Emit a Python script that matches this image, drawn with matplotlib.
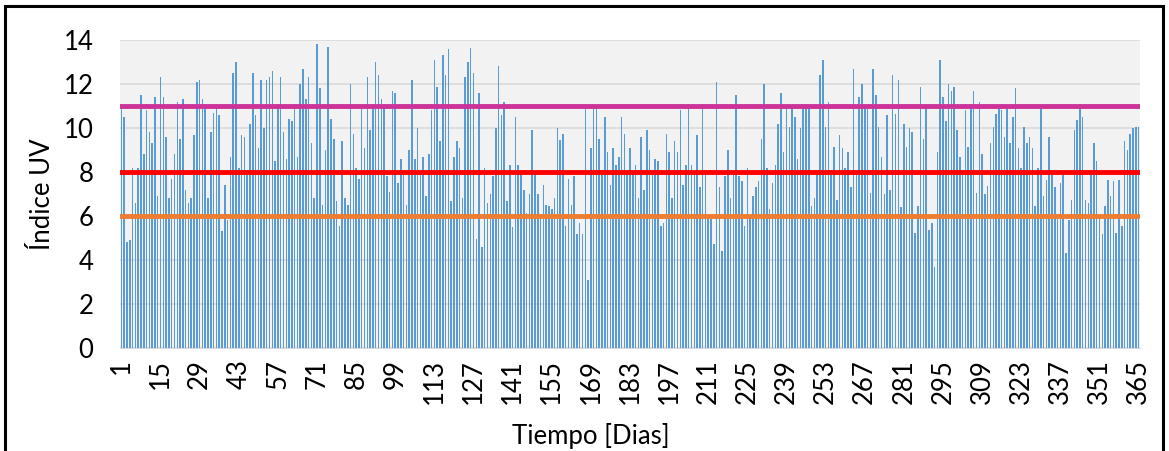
import matplotlib
matplotlib.use("Agg")
import matplotlib.pyplot as plt
from matplotlib.patches import Rectangle

# UV index per day
uv_index = [
    10.9, 10.5, 4.8, 4.9, 8.2, 6.6, 8.2, 11.5, 8.8, 10.8, 9.8, 9.3, 11.4, 6.9, 12.3, 11.4, 9.6, 6.8, 7.7, 8.8,
    11.2, 9.5, 11.3, 7.2, 6.6, 6.8, 9.7, 12.1, 12.2, 11.3, 11.0, 6.8, 9.8, 10.7, 10.9,
    10.6, 5.3, 7.4, 5.8, 8.7, 12.5, 13.0, 8.2, 9.7, 9.6, 8.0, 10.2, 12.5, 10.6, 9.1, 12.2, 10.0, 12.2, 12.3, 12.6,
    8.5, 11.0, 12.3, 9.8, 8.6, 10.4, 10.3, 10.9, 8.7, 12.0, 12.7, 11.3, 12.3, 9.3, 6.8, 13.8, 11.8,
    6.5, 9.0, 13.7, 10.4, 9.5, 6.7, 5.55, 9.4, 6.8, 6.5, 12.0, 9.75, 8.2, 7.7, 10.9, 9.1, 12.3, 9.9, 10.9, 13.0,
    12.4, 11.3, 10.9, 7.8, 7.1, 11.7, 11.6, 7.5, 8.6, 8.0, 6.5, 9.0, 12.2, 8.6, 10.0,
    8.0, 8.7, 6.9, 8.8, 10.8, 13.1, 11.85, 9.4, 13.3, 12.4, 13.6, 6.7, 8.7, 9.4, 9.1, 6.8, 12.3, 13.0, 13.65, 12.5,
    4.95, 11.6, 4.6, 8.2, 6.6, 7.0, 7.8, 10.0, 12.8, 10.6, 11.2, 6.7, 8.3, 5.5, 10.5, 8.3, 8.0, 7.2,
    6.15, 7.0, 9.9, 8.0, 7.0, 6.0, 7.4, 6.5, 6.45, 6.3, 6.8, 10.0, 9.45, 9.75, 5.55, 7.7, 6.5, 7.8, 5.2, 5.7,
    5.2, 10.9, 3.1, 9.1, 10.9, 10.9, 9.5, 8.0, 10.5, 8.9, 7.4, 9.1, 8.3, 8.7, 10.5, 9.75,
    8.0, 9.1, 8.0, 8.3, 6.8, 9.6, 7.2, 9.9, 9.0, 8.0, 8.6, 8.5, 5.55, 5.7, 9.75, 8.9, 6.8, 9.4, 8.9, 10.8,
    7.4, 8.3, 10.9, 8.3, 8.0, 9.7, 7.3, 10.9, 8.0, 6.0, 5.85, 4.75, 12.1, 7.3, 4.4, 7.8, 9.0,
    6.8, 8.0, 11.5, 7.8, 7.6, 5.55, 8.2, 6.0, 6.9, 7.3, 7.6, 9.5, 12.0, 8.2, 6.3, 7.5, 8.3, 10.2, 11.6, 8.9,
    10.9, 10.05, 10.9, 10.5, 8.6, 10.0, 10.9, 10.9, 10.9, 6.45, 6.8, 8.0, 12.4, 13.1, 10.05, 11.2,
    8.0, 9.15, 6.75, 9.7, 9.1, 8.2, 8.9, 7.3, 12.7, 8.0, 11.4, 12.0, 10.9, 10.9, 7.05, 12.7, 11.5, 10.05, 8.7, 7.0,
    10.6, 7.2, 12.4, 10.65, 12.2, 6.4, 10.2, 9.15, 10.0, 9.8, 5.25, 6.45, 11.85, 9.5, 10.9, 5.35, 5.7, 3.7,
    8.9, 13.1, 11.4, 10.3, 12.0, 11.7, 11.85, 9.9, 8.7, 8.0, 10.8, 9.15, 10.9, 11.7, 7.05, 11.2, 8.8, 7.0, 7.35, 9.3,
    10.05, 10.65, 10.9, 10.8, 9.6, 10.9, 9.3, 10.5, 11.8, 9.1, 8.2, 10.05, 9.3, 9.6, 9.1, 6.45,
    8.2, 10.9, 6.9, 7.65, 9.6, 8.0, 7.3, 6.0, 7.5, 7.85, 4.3, 5.8, 6.75, 9.9, 10.35, 10.9, 10.5, 6.75, 6.6, 8.0,
    9.3, 8.5, 6.0, 5.2, 6.45, 7.65, 6.9, 7.6, 5.25, 7.65, 5.55, 9.4, 9.0, 9.75, 10.0, 10.05, 10.05,
]
days = list(range(1, len(uv_index) + 1))
day_ticks = list(range(1, 366, 14))

# reference levels
level_values = [11, 8, 6]
level_colors = ["#CC3399", "#FF0000", "#ED7D31"]

plt.rcParams['font.family'] = ['Lato', 'DejaVu Sans']

fig = plt.figure(figsize=(11.69, 4.51), dpi=100)
ax = fig.add_axes([120 / 1169, 1 - 348 / 451, 1020 / 1169, 308 / 451])
ax.set_facecolor("#F2F2F2")

ax.bar(days, uv_index, width=0.55, color="#5B9BD5", zorder=2)
for val, col in zip(level_values, level_colors):
    ax.axhline(val, color=col, linewidth=3.5, zorder=3)

ax.set_xlim(0.5, 365.5)
ax.set_ylim(0, 14)
ax.set_yticks(range(0, 15, 2))
ax.set_xticks(day_ticks)
ax.set_xticklabels([str(d) for d in day_ticks], rotation=90)
ax.tick_params(axis='both', length=0, labelsize=18.5, colors="#000000")
ax.tick_params(axis='y', pad=19)
ax.tick_params(axis='x', pad=8)
ax.grid(axis='y', color="#D9D9D9", linewidth=1.2, zorder=0)
ax.set_axisbelow(True)
for s in ["top", "right", "left"]:
    ax.spines[s].set_visible(False)
ax.spines["bottom"].set_color("#D9D9D9")

ax.set_xlabel("Tiempo [Dias]", fontsize=18.5, labelpad=0)
ax.set_ylabel("Índice UV", fontsize=18.5, labelpad=6)
ax.xaxis.set_label_coords(0.462, -0.245)

# outer frame around the chart
fig.patches.append(Rectangle((5 / 1169, -0.1), 1158 / 1169, 1.1 - 6 / 451,
                             transform=fig.transFigure, fill=False,
                             edgecolor="black", linewidth=2.2, clip_on=False))

fig.savefig("out.png", dpi=100)
